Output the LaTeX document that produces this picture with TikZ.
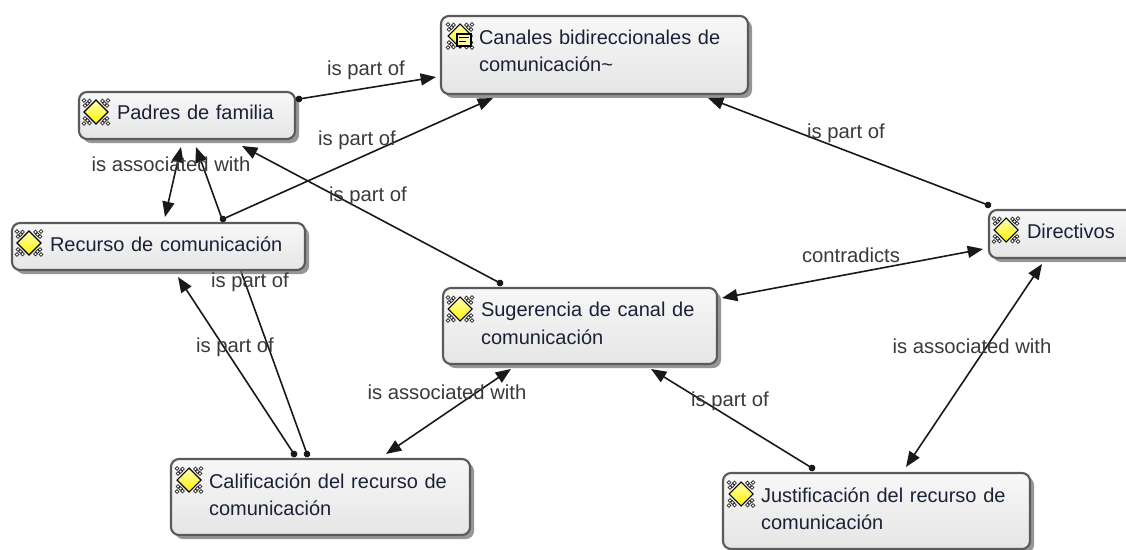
\documentclass[tikz,border=0pt]{standalone}
\usepackage{fontspec}
\setmainfont{Liberation Sans}
\usetikzlibrary{arrows.meta,calc,shadows}
\pgfdeclarelayer{under}
\pgfsetlayers{under,main}
\definecolor{nodetext}{HTML}{1B2238}
\definecolor{labeltext}{HTML}{3A3A3A}
\definecolor{boxedge}{HTML}{5A5A5A}
\tikzset{
  x=0.75pt,y=-0.75pt,
  box/.style 2 args={
    anchor=north west,rounded corners=6pt,draw=boxedge,line width=1.6pt,
    top color=white!97!black,bottom color=white!90!black,
    general shadow={fill=black!55,shadow xshift=3pt,shadow yshift=-3pt,opacity=.75},
    minimum width=#1*0.75pt,minimum height=#2*0.75pt,text width=#1*0.75pt,
    inner xsep=0pt,inner ysep=0pt,outer sep=0pt,text=nodetext,
    font=\fontsize{15}{20.3}\selectfont,
    execute at begin node={\leftskip=28.5pt\relax\rightskip=0pt plus 1fil\relax},
    execute at end node={\par\vspace{4pt}}},
  link/.style={line width=1.2pt,draw=black!90},
  dotarrow/.style={link,{Circle[length=5pt]}-{Triangle[length=11.5pt,width=9pt]},shorten <=-2.5pt},
  twoarrow/.style={link,{Triangle[length=11.5pt,width=9pt]}-{Triangle[length=11.5pt,width=9pt]}},
  rel/.style={text=labeltext,font=\fontsize{15.2}{18}\selectfont,inner sep=0pt},
  ring/.style={draw=black!85,line width=.6pt,fill=white},
  kicon/.pic={
    \foreach \sx in {-1,1}\foreach \sy in {-1,1}{
      \path[ring] (\sx*11,\sy*6.5) circle (1.9);
      \path[ring] (\sx*8.5,\sy*8.5) circle (1.9);
      \path[ring] (\sx*12,\sy*11.5) circle (1.9);
      \path[ring] (\sx*6.5,\sy*11) circle (1.9);
    }
    \path[draw=black,line width=.8pt,top color=white!70!yellow,bottom color=yellow!90!orange]
      (0,-12)--(12,0)--(0,12)--(-12,0)--cycle;
  },
  noteicon/.pic={
    \path[draw=black,line width=.8pt,fill=yellow!30!white] (-3,-2) rectangle (11,10);
    \draw[black,line width=.7pt] (-1,1.5)--(9,1.5) (-1,5)--(6,5);
  }
}
\begin{document}
\begin{tikzpicture}
\useasboundingbox (0,0) rectangle (1126,549);
\clip (0,0) rectangle (1126,549);
\begin{pgfonlayer}{under}
\fill[white] (0,0) rectangle (1126,549);
\end{pgfonlayer}
\node[box={307}{78}] (canales) at (441,16) {Canales bidireccionales de\\comunicación\textasciitilde\par\vspace{2pt}};
\node[box={216}{47}] (padres) at (79,92) {Padres de familia};
\node[box={293}{47}] (recurso) at (12,223) {Recurso de comunicación};
\node[box={274}{76}] (sugerencia) at (443,288) {Sugerencia de canal de\\comunicación};
\node[box={160}{48}] (directivos) at (989,210) {Directivos};
\node[box={299}{76}] (calificacion) at (171,459) {Calificación del recurso de\\comunicación};
\node[box={307}{76}] (justificacion) at (723,473) {Justificación del recurso de\\comunicación};
% Calificación -> Padres runs behind the Recurso box
\begin{pgfonlayer}{under}
\draw[dotarrow] ($(calificacion.north west)+(136,-5)$) -- ($(padres.north west)+(117,55)$);
\end{pgfonlayer}
\draw[dotarrow] ($(padres.north west)+(220,7)$) -- ($(canales.north west)+(-5,61)$);
\draw[dotarrow] ($(recurso.north west)+(211,-4)$) -- ($(canales.north west)+(52,82)$);
\draw[twoarrow] ($(padres.north west)+(102,55)$) -- ($(recurso.north west)+(153,-6)$);
\draw[dotarrow] ($(sugerencia.north west)+(57,-5)$) -- ($(padres.north west)+(163,54)$);
\draw[dotarrow] ($(directivos.north west)+(-1,-5)$) -- ($(canales.north west)+(267,82)$);
\draw[twoarrow] ($(sugerencia.north west)+(279,10)$) -- ($(directivos.north west)+(-6,39)$);
\draw[twoarrow] ($(directivos.north west)+(53,54)$) -- ($(justificacion.north west)+(183,-6)$);
\draw[dotarrow] ($(justificacion.north west)+(89,-5)$) -- ($(sugerencia.north west)+(208,81)$);
\draw[twoarrow] ($(sugerencia.north west)+(68,81)$) -- ($(calificacion.north west)+(215,-5)$);
\draw[dotarrow] ($(calificacion.north west)+(123,-5)$) -- ($(recurso.north west)+(166,54)$);
% icons
\foreach \n/\dx/\dy in {padres/17/20,recurso/17/20,sugerencia/17/21,directivos/17/20,calificacion/18/21,justificacion/18/21}{
  \path ($(\n.north west)+(\dx,\dy)$) pic {kicon};
}
\path ($(canales.north west)+(19,20)$) pic {kicon} pic {noteicon};
% labels
\node[rel] (l1) at (366,70) {is part of};
\node[rel] (l2) at (357,140) {is part of};
\node[rel] (l3) at (171,164) {is associated with};
\node[rel] (l4) at (368,196) {is part of};
\node[rel] (l5) at (846,133) {is part of};
\node[rel] (l6) at (851,255) {contradicts};
\node[rel] (l7) at (250,282) {is part of};
\node[rel] (l8) at (235,347) {is part of};
\node[rel] (l9) at (447,392) {is associated with};
\node[rel] (l10) at (972,346) {is associated with};
\node[rel] (l11) at (730,401) {is part of};
\end{tikzpicture}
\end{document}
